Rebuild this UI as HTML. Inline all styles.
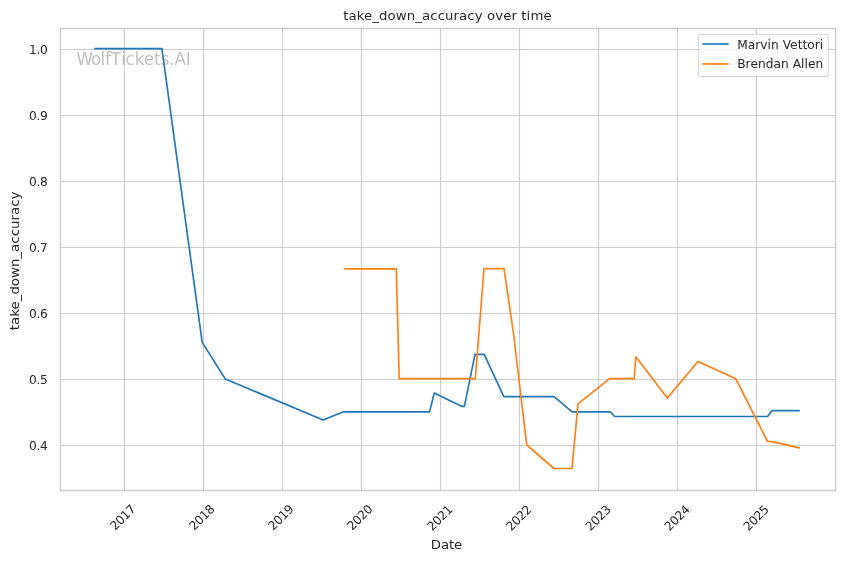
<!DOCTYPE html>
<html lang="en"><head><meta charset="utf-8"><title>take_down_accuracy over time</title>
<style>html,body{margin:0;padding:0;background:#fff;overflow:hidden}svg{display:block}text{font-family:"DejaVu Sans","Liberation Sans",sans-serif;fill:#262626}</style></head><body>
<svg width="844" height="561" viewBox="0 0 844 561">
<rect x="0" y="0" width="844" height="561" fill="#ffffff"/>
<g stroke="#cccccc" stroke-width="1.11" stroke-linecap="butt" fill="none">
<line x1="124.5" y1="28.5" x2="124.5" y2="490.5"/>
<line x1="203.5" y1="28.5" x2="203.5" y2="490.5"/>
<line x1="282.5" y1="28.5" x2="282.5" y2="490.5"/>
<line x1="361.5" y1="28.5" x2="361.5" y2="490.5"/>
<line x1="440.5" y1="28.5" x2="440.5" y2="490.5"/>
<line x1="519.5" y1="28.5" x2="519.5" y2="490.5"/>
<line x1="598.5" y1="28.5" x2="598.5" y2="490.5"/>
<line x1="677.5" y1="28.5" x2="677.5" y2="490.5"/>
<line x1="756.5" y1="28.5" x2="756.5" y2="490.5"/>
<line x1="60.5" y1="49.5" x2="835.5" y2="49.5"/>
<line x1="60.5" y1="115.5" x2="835.5" y2="115.5"/>
<line x1="60.5" y1="181.5" x2="835.5" y2="181.5"/>
<line x1="60.5" y1="247.5" x2="835.5" y2="247.5"/>
<line x1="60.5" y1="313.5" x2="835.5" y2="313.5"/>
<line x1="60.5" y1="379.5" x2="835.5" y2="379.5"/>
<line x1="60.5" y1="445.5" x2="835.5" y2="445.5"/>
</g>
<polyline points="94.90,48.65 161.90,48.65 202.20,342.40 225.30,379.00 323.20,420.00 342.90,411.90 429.50,411.90 434.30,393.00 462.00,406.40 464.40,406.40 475.00,354.30 484.20,354.30 503.80,396.70 554.00,396.70 572.20,411.80 610.30,411.80 614.60,416.50 767.60,416.50 772.10,410.60 799.20,410.60" fill="none" stroke="#1f77b4" stroke-width="1.67" stroke-linejoin="round" stroke-linecap="round"/>
<polyline points="344.90,268.80 396.30,268.80 399.20,378.70 475.30,378.70 484.00,268.70 504.00,268.70 513.40,332.50 526.70,445.00 554.00,468.50 572.00,468.50 578.00,403.90 609.60,378.70 634.20,378.70 635.80,356.80 667.30,398.00 698.00,361.50 735.70,378.70 767.40,441.30 772.10,441.60 799.20,447.90" fill="none" stroke="#ff7f0e" stroke-width="1.67" stroke-linejoin="round" stroke-linecap="round"/>
<g stroke="#cccccc" stroke-width="1.39" stroke-linecap="square" fill="none">
<line x1="60.5" y1="28.5" x2="60.5" y2="490.5"/>
<line x1="835.5" y1="28.5" x2="835.5" y2="490.5"/>
<line x1="60.5" y1="490.5" x2="835.5" y2="490.5"/>
<line x1="60.5" y1="28.5" x2="835.5" y2="28.5"/>
</g>
<text transform="translate(76.6,64.8) scale(1,1.07)" font-size="16.67" x="-0.20 14.36 23.82 28.51 34.25 44.68 48.88 58.20 67.21 77.53 84.13 92.48 97.84 109.11" y="0" style="fill:#808080" fill-opacity="0.5">WolfTickets.AI</text>
<text x="47.7" y="54.0" font-size="12.22" text-anchor="end" textLength="18.73" lengthAdjust="spacing">1.0</text>
<text x="47.7" y="120.0" font-size="12.22" text-anchor="end" textLength="18.73" lengthAdjust="spacing">0.9</text>
<text x="47.7" y="186.0" font-size="12.22" text-anchor="end" textLength="18.73" lengthAdjust="spacing">0.8</text>
<text x="47.7" y="252.0" font-size="12.22" text-anchor="end" textLength="18.73" lengthAdjust="spacing">0.7</text>
<text x="47.7" y="318.0" font-size="12.22" text-anchor="end" textLength="18.73" lengthAdjust="spacing">0.6</text>
<text x="47.7" y="384.0" font-size="12.22" text-anchor="end" textLength="18.73" lengthAdjust="spacing">0.5</text>
<text x="47.7" y="450.0" font-size="12.22" text-anchor="end" textLength="18.73" lengthAdjust="spacing">0.4</text>
<text transform="translate(125.90,520.40) rotate(-45)" font-size="12.22" text-anchor="middle" textLength="30.00" lengthAdjust="spacing">2017</text>
<text transform="translate(204.90,520.40) rotate(-45)" font-size="12.22" text-anchor="middle" textLength="30.00" lengthAdjust="spacing">2018</text>
<text transform="translate(283.90,520.40) rotate(-45)" font-size="12.22" text-anchor="middle" textLength="30.00" lengthAdjust="spacing">2019</text>
<text transform="translate(362.90,520.40) rotate(-45)" font-size="12.22" text-anchor="middle" textLength="30.00" lengthAdjust="spacing">2020</text>
<text transform="translate(442.90,520.80) rotate(-45)" font-size="12.22" text-anchor="middle" textLength="30.00" lengthAdjust="spacing">2021</text>
<text transform="translate(521.90,520.80) rotate(-45)" font-size="12.22" text-anchor="middle" textLength="30.00" lengthAdjust="spacing">2022</text>
<text transform="translate(601.20,520.80) rotate(-45)" font-size="12.22" text-anchor="middle" textLength="30.00" lengthAdjust="spacing">2023</text>
<text transform="translate(680.20,520.80) rotate(-45)" font-size="12.22" text-anchor="middle" textLength="30.00" lengthAdjust="spacing">2024</text>
<text transform="translate(759.20,520.80) rotate(-45)" font-size="12.22" text-anchor="middle" textLength="30.00" lengthAdjust="spacing">2025</text>
<text transform="translate(446.5,548.75) scale(1,0.9)" font-size="13.33" text-anchor="middle" textLength="31.36" lengthAdjust="spacing">Date</text>
<text transform="translate(19.1,260.9) rotate(-90) scale(1,0.98)" font-size="13.33" text-anchor="middle" textLength="138.68" lengthAdjust="spacing">take_down_accuracy</text>
<text transform="translate(447.4,20.0) scale(1,0.9)" font-size="13.33" text-anchor="middle" textLength="208.50" lengthAdjust="spacing">take_down_accuracy over time</text>
<rect x="698.5" y="34.5" width="129.8" height="42.0" rx="2.44" ry="2.44" fill="#ffffff" fill-opacity="0.8" stroke="#cccccc" stroke-opacity="0.8" stroke-width="1.11"/>
<line x1="703.1" y1="44.0" x2="727.9" y2="44.0" stroke="#1f77b4" stroke-width="1.67" stroke-linecap="square"/>
<line x1="703.1" y1="63.95" x2="727.9" y2="63.95" stroke="#ff7f0e" stroke-width="1.67" stroke-linecap="square"/>
<text x="737.2" y="48.9" font-size="12.22" textLength="86.02" lengthAdjust="spacing">Marvin Vettori</text>
<text x="737.2" y="67.9" font-size="12.22" textLength="85.99" lengthAdjust="spacing">Brendan Allen</text>
</svg></body></html>
